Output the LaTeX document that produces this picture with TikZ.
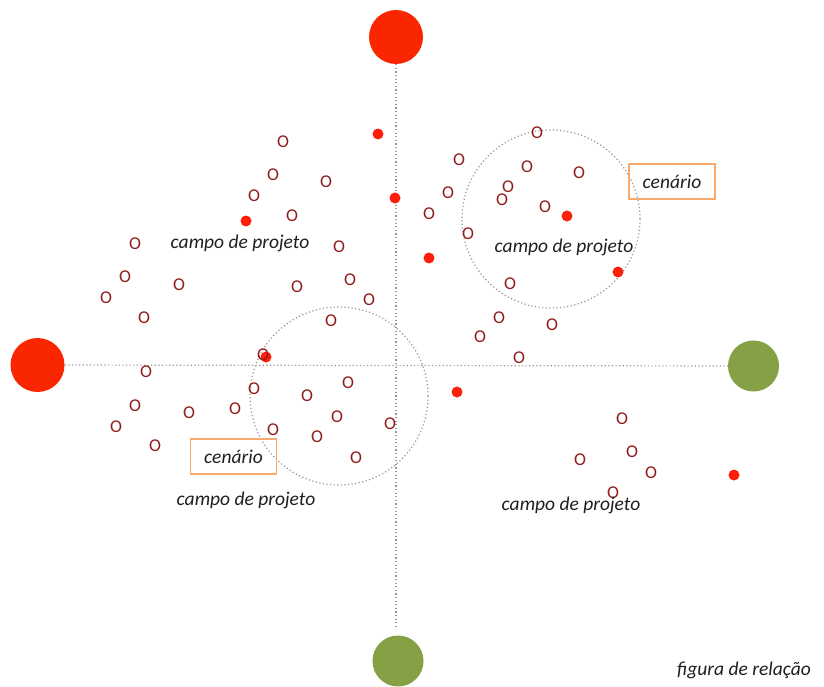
\documentclass[tikz,border=0pt]{standalone}
\usepackage{fontspec}
\setmainfont{Carlito}
\definecolor{bigred}{RGB}{250,38,0}
\definecolor{dotred}{RGB}{255,30,10}
\definecolor{bigreen}{RGB}{134,160,70}
\definecolor{omark}{RGB}{145,28,28}
\definecolor{boxorange}{RGB}{248,170,110}
\definecolor{axisgray}{RGB}{150,150,150}
\tikzset{
  bigdot/.style={circle,inner sep=0pt,minimum size=#1},
  reddot/.style={circle,fill=dotred,inner sep=0pt,minimum size=11pt},
  omk/.style={text=omark,inner sep=0pt,font=\fontsize{18}{18}\selectfont},
  lbl/.style={inner sep=0pt,text=black!88,font=\fontsize{19.5}{20}\selectfont\itshape},
  scen/.style={draw=boxorange,line width=1.2pt,minimum width=86pt,minimum height=35pt,inner sep=0pt,text=black!88,font=\fontsize{19.5}{20}\selectfont\itshape},
  axisline/.style={draw=axisgray,line width=1.2pt,dash pattern=on 1.2pt off 2.4pt},
  fieldcirc/.style={circle,draw=axisgray,line width=1.2pt,dash pattern=on 1.2pt off 2.4pt,inner sep=0pt,minimum size=#1}
}
\begin{document}
\begin{tikzpicture}[x=1pt,y=-1pt]
\useasboundingbox (0,0) rectangle (824,687);
% dotted field circles
\node[fieldcirc=178pt] (f1) at (551,219) {};
\node[fieldcirc=178pt] (f2) at (339,396) {};
% big pole circles
\node[bigdot=54pt,fill=bigred] (top) at (396,37) {};
\node[bigdot=54pt,fill=bigred] (left) at (37.5,365) {};
\node[bigdot=51pt,fill=bigreen] (right) at (753.5,366) {};
\node[bigdot=51pt,fill=bigreen] (bottom) at (398,661) {};
% axes
\draw[axisline,shorten >=6pt] (top) -- (top|-bottom.north);
\draw[axisline] (left) -- (right);
% O markers
\foreach \x/\y [count=\i] in {
 283/142, 273/175, 326/182, 254/196, 292/216, 135/244, 339/247, 125/277,
 179/285, 297/287, 350/280, 106/298, 369/300, 144/318, 331/321,
 537/133, 459/160, 527/167, 579/173, 508/187, 448/193, 502/200, 429/214,
 545/207, 468/234, 510/284, 499/318, 552/325, 480/337, 519/358,
 622/419, 632/452, 580/460, 651/473, 613/493,
 146/372, 254/389, 348/383, 307/396, 135/406, 189/413, 235/409, 337/417,
 116/427, 273/430, 317/437, 390/424, 155/446, 356/458}
 \node[omk] (o\i) at (\x,\y) {O};
% red dots
\foreach \x/\y [count=\i] in {
 246/221, 378/134, 395/198, 567/216, 429/258, 618/272, 457/392, 734/475, 266/357}
 \node[reddot] (d\i) at (\x,\y) {};
\node[omk] (o50) at (263,355) {O};
% labels
\node[lbl] (cp1) at (240,243) {campo de projeto};
\node[lbl] (cp2) at (564,247) {campo de projeto};
\node[lbl] (cp3) at (246,500) {campo de projeto};
\node[lbl] (cp4) at (571,505) {campo de projeto};
\node[lbl] (fig) at (744,670) {figura de relação};
\node[scen] (s1) at (672,181.5) {cenário};
\node[scen] (s2) at (233.5,456.5) {cenário};
\end{tikzpicture}
\end{document}
